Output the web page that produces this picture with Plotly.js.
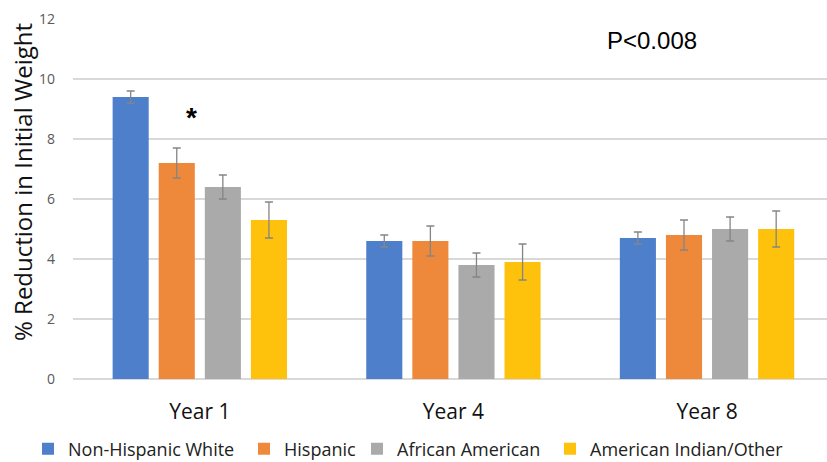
<!DOCTYPE html>
<html>
<head>
<meta charset="utf-8">
<script src="https://cdn.plot.ly/plotly-3.0.1.min.js"></script>
<style>html,body{margin:0;padding:0;background:#fff;}#chart{width:827px;height:462px;}</style>
</head>
<body>
<div id="chart"></div>
<script>
const categories = ["Year 1", "Year 4", "Year 8"];
const seriesNames = ["Non-Hispanic White", "Hispanic", "African American", "American Indian/Other"];
const whiteVals = [9.4, 4.6, 4.7];
const whiteErr = [0.2, 0.2, 0.2];
const hispanicVals = [7.2, 4.6, 4.8];
const hispanicErr = [0.5, 0.5, 0.5];
const africanVals = [6.4, 3.8, 5.0];
const africanErr = [0.4, 0.4, 0.4];
const indianVals = [5.3, 3.9, 5.0];
const indianErr = [0.6, 0.6, 0.6];
const colors = ["#4e7fcb", "#ee883b", "#aaaaaa", "#fec20d"];

const vals = [whiteVals, hispanicVals, africanVals, indianVals];
const errs = [whiteErr, hispanicErr, africanErr, indianErr];
const legendIds = ["legend", "legend2", "legend3", "legend4"];

const W = 827, H = 462, L = 73, T = 19, B = 83;
const plotW = W - L, plotH = H - T - B;
const px = x => (x - L) / plotW;
const py = y => (H - B - y) / plotH;

const data = seriesNames.map((n, i) => ({
  type: "bar",
  name: n,
  x: categories,
  y: vals[i],
  legend: legendIds[i],
  marker: {color: colors[i]},
  error_y: {type: "data", array: errs[i], visible: true, color: "#858585", thickness: 1.3, width: 4}
}));

// legend text start positions in the reference (px)
const legendTextX = [65, 281, 394, 587];
const legFont = {size: 18, color: "#222", family: "Open Sans, sans-serif"};

const layout = {
  width: W, height: H,
  margin: {l: L, r: 0, t: T, b: B, autoexpand: false},
  paper_bgcolor: "#fff", plot_bgcolor: "#fff",
  font: {family: "Open Sans, sans-serif", color: "#000"},
  barmode: "group",
  bargap: 0.273,
  bargroupgap: 0.217,
  showlegend: true,
  xaxis: {range: [-0.5, 2.473], showgrid: false, zeroline: false, showline: false,
          tickfont: {size: 21, color: "#111"}, ticks: "", ticklabelstandoff: 18},
  yaxis: {range: [0, 12], dtick: 2, showgrid: true, gridcolor: "#d9d9d9", gridwidth: 1.2,
          zeroline: true, zerolinecolor: "#d9d9d9", zerolinewidth: 1.2, showline: false,
          tickfont: {size: 14, color: "#595959"}, ticks: "", ticklabelstandoff: 17},
  annotations: [
    {text: "% Reduction in Initial Weight", xref: "paper", yref: "paper", x: px(23), y: py(182),
     textangle: -90, showarrow: false, xanchor: "center", yanchor: "middle",
     font: {size: 24, color: "#111"}},
    {text: "*", xref: "paper", yref: "paper", x: px(191.5), y: py(117),
     showarrow: false, xanchor: "center", yanchor: "middle",
     font: {size: 28, color: "#000", family: "Liberation Sans, Arial", weight: "bold"}},
    {text: "P<0.008", xref: "paper", yref: "paper", x: px(651.5), y: py(40),
     showarrow: false, xanchor: "center", yanchor: "middle",
     font: {size: 24, color: "#000", family: "Liberation Sans, Arial"}}
  ]
};

legendIds.forEach((id, i) => {
  layout[id] = {orientation: "h", x: px(legendTextX[i] - 40 + 3), xanchor: "left",
                y: py(449), yanchor: "middle", font: legFont, itemwidth: 30,
                bgcolor: "rgba(0,0,0,0)", borderwidth: 0};
});

Plotly.newPlot("chart", data, layout, {displayModeBar: false, staticPlot: true});
</script>
</body>
</html>
